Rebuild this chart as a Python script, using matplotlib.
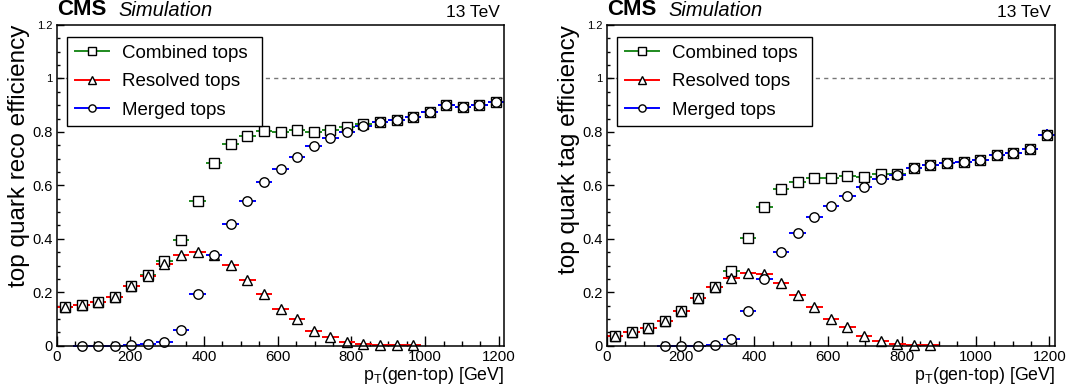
import numpy as np
import matplotlib
matplotlib.use('Agg')
import matplotlib.pyplot as plt
from matplotlib.lines import Line2D
from matplotlib.ticker import MultipleLocator

plt.rcParams['font.family'] = ['Liberation Sans', 'DejaVu Sans']
plt.rcParams['mathtext.default'] = 'regular'

# binning: 27 bins of 45 GeV from 0 to 1215
bin_width = 45.0
n_bins = 27
centers = bin_width * (np.arange(n_bins) + 0.5)

# left panel: reconstruction efficiency
reco_combined = [0.143, 0.153, 0.163, 0.182, 0.222, 0.265, 0.318, 0.395, 0.542, 0.682,
                 0.756, 0.786, 0.804, 0.801, 0.806, 0.801, 0.807, 0.818, 0.830, 0.836,
                 0.844, 0.857, 0.873, 0.902, 0.895, 0.900, 0.911]
reco_resolved = [0.143, 0.153, 0.163, 0.182, 0.222, 0.262, 0.305, 0.338, 0.350, 0.340,
                 0.303, 0.247, 0.194, 0.138, 0.101, 0.056, 0.031, 0.014, 0.007, 0.003,
                 0.001, 0.002]
reco_merged = [0.0, 0.0, 0.0, 0.002, 0.006, 0.014, 0.060, 0.192, 0.339, 0.454,
               0.540, 0.611, 0.662, 0.707, 0.748, 0.779, 0.799, 0.822, 0.836, 0.844,
               0.857, 0.873, 0.902, 0.895, 0.900, 0.911]
reco_first = {'combined': 0, 'resolved': 0, 'merged': 1}

# right panel: tagging efficiency
tag_combined = [0.037, 0.050, 0.067, 0.092, 0.131, 0.178, 0.221, 0.281, 0.402, 0.520,
                0.585, 0.614, 0.629, 0.629, 0.634, 0.631, 0.641, 0.643, 0.666, 0.676,
                0.685, 0.687, 0.694, 0.715, 0.720, 0.736, 0.787]
tag_resolved = [0.037, 0.050, 0.067, 0.092, 0.131, 0.178, 0.221, 0.252, 0.271, 0.268,
                0.236, 0.190, 0.146, 0.100, 0.070, 0.036, 0.016, 0.008, 0.002, 0.001]
tag_merged = [0.0, 0.0, 0.0, 0.003, 0.026, 0.129, 0.251, 0.349, 0.422, 0.480,
              0.524, 0.561, 0.595, 0.623, 0.638, 0.666, 0.676, 0.685, 0.687, 0.694,
              0.715, 0.720, 0.736, 0.787]
tag_first = {'combined': 0, 'resolved': 0, 'merged': 3}
# vertical stat. errors of the last bins (only visible ones)
tag_err_tail = [0.008, 0.010, 0.012, 0.022]

labels = ['Combined tops', 'Resolved tops', 'Merged tops']
colors = ['#1f8a1f', '#ff0000', '#0000ff']
markers = ['s', '^', 'o']
msizes = [6.5, 6.8, 6.8]

fig = plt.figure(figsize=(10.71, 3.9), dpi=100)
ax1 = fig.add_axes([0.05294, 0.11359, 0.41793, 0.82231])
ax2 = fig.add_axes([0.56648, 0.11359, 0.41858, 0.82231])


def draw_series(ax, y, first, color, marker, ms, yerr=None):
    idx = np.arange(first, first + len(y))
    x = centers[idx]
    if yerr is None:
        yerr = np.zeros(len(y))
    ax.errorbar(x, y, xerr=bin_width / 2, yerr=yerr, fmt=marker, color=color,
                ecolor=color, mfc='white', mec='black', mew=1.0, ms=ms,
                elinewidth=1.4, capsize=0, clip_on=False)


def tail_err(n):
    e = np.full(n, 0.002)
    e[-len(tag_err_tail):] = tag_err_tail
    return e


panels = [
    (ax1, [reco_combined, reco_resolved, reco_merged], reco_first,
     'top quark reco efficiency', None),
    (ax2, [tag_combined, tag_resolved, tag_merged], tag_first,
     'top quark tag efficiency', True),
]

for ax, series, first, ylab, errs in panels:
    ax.axhline(1.0, color='#777777', lw=1.0, ls=(0, (3, 3)), zorder=0)
    keys = ['combined', 'resolved', 'merged']
    for k, y, c, m, ms in zip(keys, series, colors, markers, msizes):
        ye = None
        if errs and k != 'resolved':
            ye = tail_err(len(y))
        draw_series(ax, y, first[k], c, m, ms, ye)

    ax.set_xlim(0, 1215)
    ax.set_ylim(0, 1.2)
    ax.xaxis.set_major_locator(MultipleLocator(200))
    ax.xaxis.set_minor_locator(MultipleLocator(50))
    yt = [0, 0.2, 0.4, 0.6, 0.8, 1.0, 1.2]
    ax.set_yticks(yt)
    ax.set_yticklabels(['0', '0.2', '0.4', '0.6', '0.8', '1', '1.2'])
    for lab, v in zip(ax.get_yticklabels(), yt):
        lab.set_fontsize(8 if v >= 1 else 10.5)
    ax.yaxis.set_minor_locator(MultipleLocator(0.05))
    ax.tick_params(axis='x', which='major', direction='in', length=7.5, width=1.0,
                   labelsize=10.8, pad=3, top=False)
    ax.tick_params(axis='x', which='minor', direction='in', length=3.6, width=1.0, top=False)
    ax.tick_params(axis='y', which='major', direction='in', length=5, width=1.0,
                   pad=3, right=False)
    ax.tick_params(axis='y', which='minor', direction='in', length=2.5, width=1.0, right=False)
    for sp in ax.spines.values():
        sp.set_linewidth(1.1)

    ax.set_ylabel(ylab, fontsize=17.5, loc='top')
    ax.yaxis.set_label_coords(-0.06, 1.0)
    ax.set_xlabel(r'p$_{T}$(gen-top) [GeV]', fontsize=12.8, loc='right')
    ax.xaxis.set_label_coords(1.0, -0.06)

    ax.text(0.0, 1.015, 'CMS', transform=ax.transAxes, fontsize=16,
            fontweight='bold', ha='left', va='bottom')
    ax.text(0.138, 1.015, 'Simulation', transform=ax.transAxes, fontsize=14.5,
            fontstyle='italic', ha='left', va='bottom')
    ax.text(0.99, 1.015, '13 TeV', transform=ax.transAxes, fontsize=12.5,
            ha='right', va='bottom')

    handles = [Line2D([0], [0], color=c, lw=1.4, marker=m, mfc='white', mec='black',
                      mew=1.0, ms=5.2) for c, m in zip(colors, markers)]
    leg = ax.legend(handles, labels, loc='upper left',
                    bbox_to_anchor=(0.0237, 0.6935, 0.4343, 0.2682),
                    mode='expand', borderaxespad=0, fontsize=13.5, frameon=True,
                    fancybox=False, framealpha=1, edgecolor='black',
                    handlelength=1.8, handletextpad=0.7, labelspacing=0.6,
                    borderpad=0.4)
    leg.get_frame().set_linewidth(1.0)

fig.savefig('out.png', dpi=100)
